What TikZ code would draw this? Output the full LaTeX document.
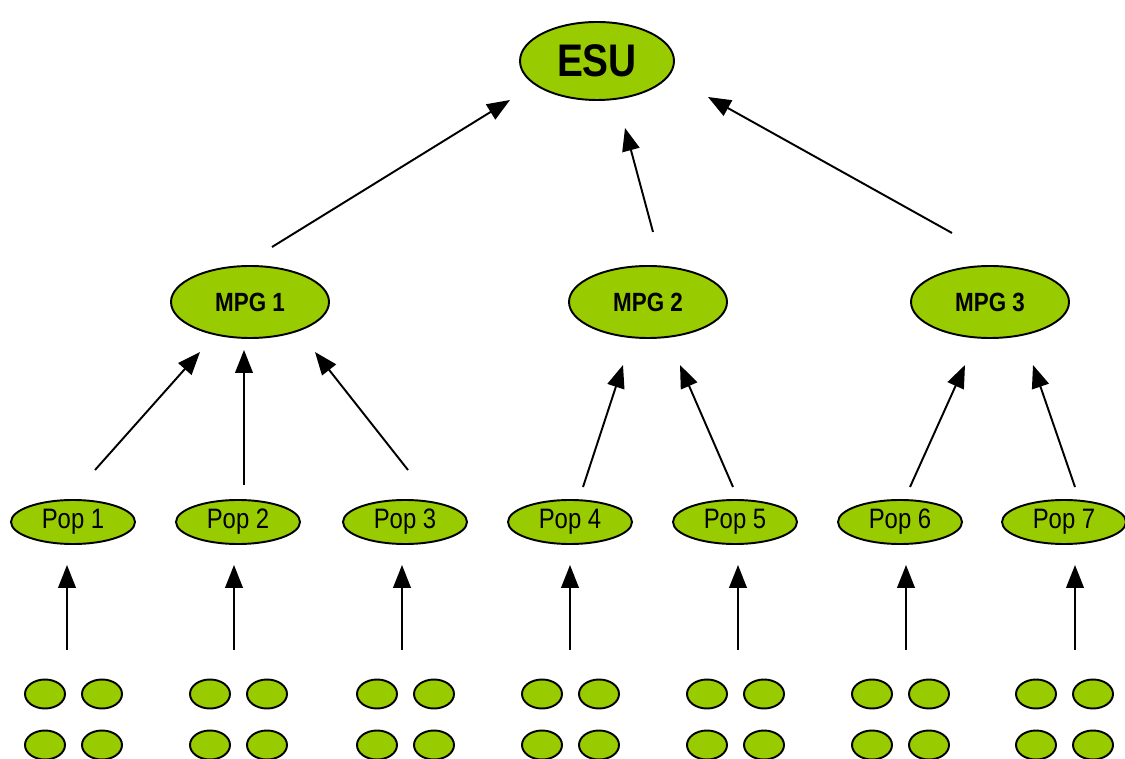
\documentclass[tikz,border=0pt]{standalone}
\usepackage{fontspec}
\setmainfont{Liberation Sans}
\newfontfamily\narrowfont[FakeStretch=0.85]{Liberation Sans}
\usepackage{xcolor}
\usetikzlibrary{arrows.meta}
\usetikzlibrary{shapes.geometric}
\definecolor{leafgreen}{HTML}{99CC00}

\begin{document}
\begin{tikzpicture}[x=0.02cm, y=-0.02cm,
    blob/.style={ellipse, draw=black, line width=1.1pt, fill=leafgreen, inner sep=0pt},
    up/.style={-{Triangle[length=13pt,width=10pt]}, line width=1.1pt}]
              \def\ulen{0.02cm}
              \useasboundingbox (0,0) rectangle (1125,759);
              % top unit
              \node[blob, minimum width=154*\ulen, minimum height=78*\ulen,
                font=\narrowfont\bfseries\fontsize{26}{30}\selectfont] (esu) at (597,61) {ESU};
              % management groups
              \foreach \j/\x in {1/250, 2/648, 3/990}
                \node[blob, minimum width=158*\ulen, minimum height=72*\ulen,
                  font=\narrowfont\bfseries\fontsize{15}{18}\selectfont] (mpg\j) at (\x,302) {MPG \j};
              % populations and their members
              \foreach \i/\x/\ax in {1/73/67, 2/238/234, 3/405/402, 4/570/570, 5/735/738, 6/900/906, 7/1064/1075}{
                \node[blob, minimum width=124*\ulen, minimum height=44*\ulen,
                  font=\narrowfont\fontsize{16}{19}\selectfont] (pop\i) at (\x,522) {Pop \i};
                \node[blob, minimum width=40*\ulen, minimum height=29*\ulen] (s\i a) at (\x-28,694) {};
                \node[blob, minimum width=40*\ulen, minimum height=29*\ulen] (s\i b) at (\x+29,694) {};
                \node[blob, minimum width=40*\ulen, minimum height=29*\ulen] (s\i c) at (\x-28,745) {};
                \node[blob, minimum width=40*\ulen, minimum height=29*\ulen] (s\i d) at (\x+29,745) {};
                \coordinate (b\i) at (\ax,650);
                \coordinate (h\i) at (\ax,565);
                \draw[up] (b\i) -- (h\i);
              }

              % pop -> mpg
              \coordinate (t1) at (95,470);   \coordinate (e1) at (200,352);
              \coordinate (t2) at (244,485);  \coordinate (e2) at (244,350);
              \coordinate (t3) at (408,470);  \coordinate (e3) at (315,352);
              \coordinate (t4) at (583,487);  \coordinate (e4) at (623,365);
              \coordinate (t5) at (733,487);  \coordinate (e5) at (680,365);
              \coordinate (t6) at (910,487);  \coordinate (e6) at (965,365);
              \coordinate (t7) at (1075,487); \coordinate (e7) at (1033,365);
              \foreach \i in {1,...,7}
                \draw[up] (t\i) -- (e\i);

              % mpg -> esu
              \coordinate (m1) at (272,247); \coordinate (u1) at (510,100);
              \coordinate (m2) at (653,232); \coordinate (u2) at (625,128);
              \coordinate (m3) at (952,233); \coordinate (u3) at (708,97);
              \foreach \j in {1,2,3}
                \draw[up] (m\j) -- (u\j);
            \end{tikzpicture}
\end{document}
